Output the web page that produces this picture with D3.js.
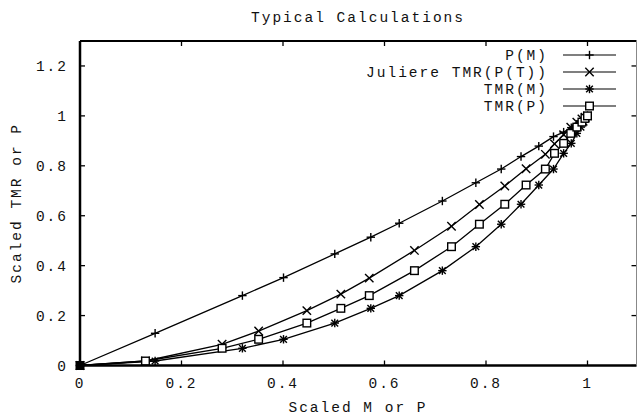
<!DOCTYPE html>
<html><head><meta charset="utf-8">
<script src="https://cdn.jsdelivr.net/npm/d3@7"></script>
<style>
html,body{margin:0;padding:0;background:#fff;}
svg{display:block;}
text{font-family:"Liberation Mono","DejaVu Sans Mono",monospace;fill:#111;}
</style></head>
<body>
<svg id="c" width="637" height="420"></svg>
<script>
// ---- data ----
const title = "Typical Calculations";
const xTitle = "Scaled M or P";
const yTitle = "Scaled TMR or P";
const xTicks = [0, 0.2, 0.4, 0.6, 0.8, 1];
const yTicks = [0, 0.2, 0.4, 0.6, 0.8, 1, 1.2];
const seriesNames = ["P(M)", "Juliere TMR(P(T))", "TMR(M)", "TMR(P)"];
const seriesMarkers = ["plus", "cross", "star", "square"];

// scaled M grid (x of P(M) and TMR(M))
const mGrid = [0, 0.148, 0.320, 0.401, 0.502, 0.573, 0.629, 0.714, 0.780, 0.830, 0.869, 0.904, 0.933, 0.953, 0.968, 0.979, 0.987, 0.993, 0.997, 1.0];
// scaled P grid (x of Juliere and TMR(P))
const pGrid = [0, 0.129, 0.280, 0.352, 0.447, 0.514, 0.570, 0.659, 0.732, 0.787, 0.837, 0.879, 0.917, 0.935, 0.953, 0.967, 0.979, 0.989, 0.995, 1.0];
const pOfM    = [0, 0.129, 0.280, 0.352, 0.447, 0.514, 0.570, 0.659, 0.732, 0.787, 0.837, 0.879, 0.917, 0.935, 0.953, 0.967, 0.979, 0.989, 0.995, 1.0];
const juliere = [0, 0.018, 0.085, 0.138, 0.220, 0.286, 0.350, 0.461, 0.558, 0.645, 0.719, 0.788, 0.846, 0.888, 0.925, 0.955, 0.975, 0.988, 0.995, 1.0];
const tmrM    = [0, 0.018, 0.069, 0.105, 0.170, 0.229, 0.280, 0.380, 0.476, 0.566, 0.646, 0.723, 0.787, 0.850, 0.890, 0.930, 0.955, 0.975, 0.990, 1.0];
const tmrP    = [0, 0.018, 0.069, 0.105, 0.170, 0.229, 0.280, 0.380, 0.476, 0.566, 0.646, 0.723, 0.787, 0.850, 0.890, 0.930, 0.955, 0.975, 0.990, 1.0];

const seriesX = [mGrid, pGrid, mGrid, pGrid];
const seriesY = [pOfM, juliere, tmrM, tmrP];

// ---- layout ----
const svg = d3.select("#c");
const L = 80, T = 41, B = 365.5;
const x = d3.scaleLinear().domain([0, 1.1]).range([L, L + 507.5 * 1.1]);
const y = d3.scaleLinear().domain([0, 1.3]).range([B, T]);
const R = Math.min(x(1.1), 636.5);
const FS = 14.5, LS = 2;

// ticks (inward, all four sides)
const tg = svg.append("g").attr("stroke", "#000").attr("stroke-width", 1.3);
xTicks.forEach(v => {
  tg.append("line").attr("x1", x(v)).attr("x2", x(v)).attr("y1", B).attr("y2", B - 5);
  tg.append("line").attr("x1", x(v)).attr("x2", x(v)).attr("y1", T).attr("y2", T + 5);
});
yTicks.forEach(v => {
  tg.append("line").attr("x1", L).attr("x2", L + 5).attr("y1", y(v)).attr("y2", y(v));
  tg.append("line").attr("x1", R).attr("x2", R - 5).attr("y1", y(v)).attr("y2", y(v));
});

// frame
svg.append("line").attr("x1", L).attr("x2", R).attr("y1", T).attr("y2", T).attr("stroke", "#000").attr("stroke-width", 2);
svg.append("line").attr("x1", L).attr("x2", R).attr("y1", B).attr("y2", B).attr("stroke", "#000").attr("stroke-width", 2.5);
svg.append("line").attr("x1", L).attr("x2", L).attr("y1", T).attr("y2", B).attr("stroke", "#000").attr("stroke-width", 2.5);
svg.append("line").attr("x1", R).attr("x2", R).attr("y1", T).attr("y2", B).attr("stroke", "#888").attr("stroke-width", 1);

// tick labels
xTicks.forEach(v => {
  svg.append("text").attr("x", x(v)).attr("y", 388).attr("text-anchor", "middle")
    .attr("font-size", FS).attr("letter-spacing", LS).text(d3.format("~g")(v));
});
yTicks.forEach(v => {
  svg.append("text").attr("x", 68).attr("y", y(v) + 5).attr("text-anchor", "end")
    .attr("font-size", FS).attr("letter-spacing", LS).text(d3.format("~g")(v));
});

// titles
svg.append("text").attr("x", 358).attr("y", 22).attr("text-anchor", "middle")
  .attr("font-size", FS).attr("letter-spacing", LS).text(title);
svg.append("text").attr("x", 358).attr("y", 412).attr("text-anchor", "middle")
  .attr("font-size", FS).attr("letter-spacing", LS).text(xTitle);
svg.append("text").attr("transform", "translate(21," + (y(0.65)) + ") rotate(-90)")
  .attr("text-anchor", "middle").attr("font-size", FS).attr("letter-spacing", LS).text(yTitle);

// markers
function marker(g, type, cx, cy) {
  const s = 4.2;
  const m = g.append("g").attr("stroke", "#000").attr("stroke-width", 1.4).attr("fill", "none");
  if (type === "plus" || type === "star") {
    m.append("line").attr("x1", cx - s).attr("x2", cx + s).attr("y1", cy).attr("y2", cy);
    m.append("line").attr("x1", cx).attr("x2", cx).attr("y1", cy - s).attr("y2", cy + s);
  }
  if (type === "cross" || type === "star") {
    const t = type === "star" ? s * 0.8 : s;
    m.append("line").attr("x1", cx - t).attr("x2", cx + t).attr("y1", cy - t).attr("y2", cy + t);
    m.append("line").attr("x1", cx - t).attr("x2", cx + t).attr("y1", cy + t).attr("y2", cy - t);
  }
  if (type === "square") {
    m.append("rect").attr("x", cx - 3.8).attr("y", cy - 3.8).attr("width", 7.6).attr("height", 7.6).attr("fill", "#fff");
  }
}

const line = d3.line().x(d => x(d[0])).y(d => y(d[1]));
const plot = svg.append("g");
seriesNames.forEach((name, i) => {
  const pts = seriesX[i].map((v, j) => [v, seriesY[i][j]]);
  plot.append("path").datum(pts).attr("d", line).attr("fill", "none")
    .attr("stroke", "#000").attr("stroke-width", 1.3);
});
seriesNames.forEach((name, i) => {
  const pts = seriesX[i].map((v, j) => [v, seriesY[i][j]]);
  pts.forEach(p => marker(plot, seriesMarkers[i], x(p[0]), y(p[1])));
});
// origin blob
plot.append("rect").attr("x", x(0) - 4).attr("y", y(0) - 4).attr("width", 8).attr("height", 8).attr("fill", "#000");

// legend
const legY = [55, 72, 89, 106];
seriesNames.forEach((name, i) => {
  svg.append("text").attr("x", 548).attr("y", legY[i] + 5).attr("text-anchor", "end")
    .attr("font-size", FS).attr("letter-spacing", LS).text(name);
  svg.append("line").attr("x1", 563).attr("x2", 616).attr("y1", legY[i]).attr("y2", legY[i])
    .attr("stroke", "#000").attr("stroke-width", 1.2);
  marker(svg, seriesMarkers[i], 589.5, legY[i]);
});
</script>
</body></html>
